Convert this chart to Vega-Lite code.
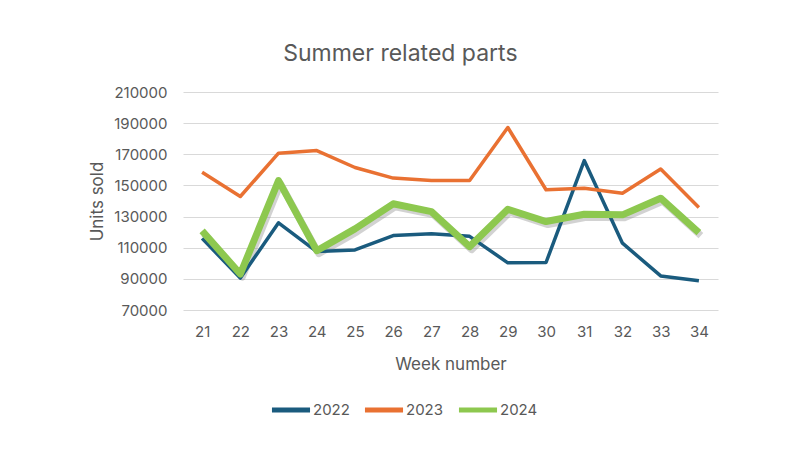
{
  "$schema": "https://vega.github.io/schema/vega-lite/v6.json",
  "autosize": "none",
  "width": 535,
  "height": 218,
  "padding": {"left": 183, "top": 92, "right": 82, "bottom": 149},
  "background": "white",
  "title": {
    "text": "Summer related parts",
    "font": "Inter",
    "fontSize": 23,
    "fontWeight": "normal",
    "color": "#595959",
    "anchor": "middle",
    "frame": "bounds",
    "offset": 19,
    "dx": -3
  },
  "config": {
    "view": {"stroke": null},
    "font": "Inter",
    "axis": {
      "labelFont": "Inter",
      "titleFont": "Inter",
      "labelColor": "#595959",
      "titleColor": "#595959",
      "titleFontWeight": "normal",
      "gridColor": "#d9d9d9",
      "gridWidth": 1,
      "domain": false,
      "ticks": false
    },
    "legend": {"labelFont": "Inter", "labelColor": "#595959"}
  },
  "data": {
    "values": [
      {"week": 21, "year": "2022", "units": 116000},
      {"week": 22, "year": "2022", "units": 90500},
      {"week": 23, "year": "2022", "units": 126000},
      {"week": 24, "year": "2022", "units": 107500},
      {"week": 25, "year": "2022", "units": 108600},
      {"week": 26, "year": "2022", "units": 117800},
      {"week": 27, "year": "2022", "units": 118900},
      {"week": 28, "year": "2022", "units": 117300},
      {"week": 29, "year": "2022", "units": 100300},
      {"week": 30, "year": "2022", "units": 100500},
      {"week": 31, "year": "2022", "units": 166000},
      {"week": 32, "year": "2022", "units": 112900},
      {"week": 33, "year": "2022", "units": 91900},
      {"week": 34, "year": "2022", "units": 88800},
      {"week": 21, "year": "2023", "units": 158500},
      {"week": 22, "year": "2023", "units": 142900},
      {"week": 23, "year": "2023", "units": 170700},
      {"week": 24, "year": "2023", "units": 172400},
      {"week": 25, "year": "2023", "units": 161500},
      {"week": 26, "year": "2023", "units": 154700},
      {"week": 27, "year": "2023", "units": 153100},
      {"week": 28, "year": "2023", "units": 153100},
      {"week": 29, "year": "2023", "units": 187200},
      {"week": 30, "year": "2023", "units": 147200},
      {"week": 31, "year": "2023", "units": 148200},
      {"week": 32, "year": "2023", "units": 145000},
      {"week": 33, "year": "2023", "units": 160500},
      {"week": 34, "year": "2023", "units": 135800},
      {"week": 21, "year": "2024", "units": 120800},
      {"week": 22, "year": "2024", "units": 93100},
      {"week": 23, "year": "2024", "units": 153100},
      {"week": 24, "year": "2024", "units": 108100},
      {"week": 25, "year": "2024", "units": 122100},
      {"week": 26, "year": "2024", "units": 138200},
      {"week": 27, "year": "2024", "units": 133200},
      {"week": 28, "year": "2024", "units": 110700},
      {"week": 29, "year": "2024", "units": 134700},
      {"week": 30, "year": "2024", "units": 126800},
      {"week": 31, "year": "2024", "units": 131500},
      {"week": 32, "year": "2024", "units": 131100},
      {"week": 33, "year": "2024", "units": 141800},
      {"week": 34, "year": "2024", "units": 119700}
    ]
  },
  "encoding": {
    "x": {
      "field": "week",
      "type": "ordinal",
      "scale": {"paddingOuter": 0.5},
      "axis": {
        "title": "Week number",
        "labelAngle": 0,
        "labelFontSize": 15,
        "labelPadding": 14,
        "titleFontSize": 17,
        "titlePadding": 17,
        "grid": false
      }
    },
    "y": {
      "field": "units",
      "type": "quantitative",
      "scale": {"domain": [70000, 210000], "nice": false},
      "axis": {
        "title": "Units sold",
        "values": [70000, 90000, 110000, 130000, 150000, 170000, 190000, 210000],
        "format": "d",
        "labelFontSize": 15,
        "labelPadding": 16,
        "titleFontSize": 17,
        "titlePadding": 7
      }
    }
  },
  "layer": [
    {
      "transform": [{"filter": "datum.year === '2024'"}],
      "mark": {"type": "line", "stroke": "#7f7f7f", "strokeWidth": 7, "opacity": 0.35, "xOffset": 2, "yOffset": 3, "strokeJoin": "round"},
      "encoding": {"detail": {"field": "year"}}
    },
    {
      "mark": {"type": "line", "strokeJoin": "round"},
      "encoding": {
        "color": {
          "field": "year",
          "type": "nominal",
          "scale": {"domain": ["2022", "2023", "2024"], "range": ["#1a5b7e", "#e97132", "#8dc84f"]},
          "legend": {
            "title": null,
            "orient": "none",
            "direction": "horizontal",
            "legendX": 86,
            "legendY": 296,
            "symbolType": "stroke",
            "symbolSize": 1450,
            "symbolStrokeWidth": 5,
            "labelFontSize": 15,
            "labelOffset": 0,
            "columnPadding": 4,
            "encode": {"symbols": {"update": {"strokeWidth": {"value": 5}}}}
          }
        },
        "strokeWidth": {
          "condition": {"test": "datum.year === '2024'", "value": 7},
          "value": 3.5
        }
      }
    }
  ]
}
